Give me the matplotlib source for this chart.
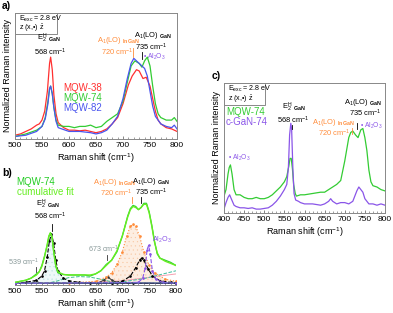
import matplotlib
matplotlib.use('Agg')
import matplotlib.pyplot as plt
from matplotlib.patches import Rectangle

plt.rcParams['font.family'] = ['Liberation Sans', 'DejaVu Sans']
plt.rcParams['mathtext.fontset'] = 'custom'
plt.rcParams['mathtext.rm'] = 'Liberation Sans'
plt.rcParams['mathtext.it'] = 'Liberation Sans:italic'
plt.rcParams['mathtext.bf'] = 'Liberation Sans:bold'
plt.rcParams['hatch.linewidth'] = 0.3

# ---- panel a data ----
xa_38 = [500, 510, 520, 530, 540, 545, 550, 555, 560, 564, 566, 569, 572, 576, 580, 590, 600, 610, 620, 630,
         640, 650, 660, 670, 680, 690, 700, 710, 717, 725, 730, 737, 743, 750, 755, 760, 765, 770, 780, 790, 800]
ya_38 = [0.03, 0.04, 0.06, 0.08, 0.11, 0.12, 0.15, 0.22, 0.38, 0.60, 0.65, 0.55, 0.35, 0.20, 0.13, 0.09, 0.07,
         0.07, 0.065, 0.07, 0.06, 0.05, 0.06, 0.08, 0.12, 0.17, 0.28, 0.43, 0.50, 0.55, 0.54, 0.48, 0.49, 0.42,
         0.32, 0.22, 0.15, 0.12, 0.09, 0.08, 0.06]
xa_82 = [500, 520, 540, 550, 556, 561, 564, 566, 569, 572, 576, 580, 600, 620, 640, 650, 660, 670, 680, 690,
         700, 708, 715, 720, 725, 730, 735, 740, 745, 750, 755, 760, 770, 780, 790, 795, 800]
ya_82 = [0.02, 0.03, 0.06, 0.10, 0.16, 0.28, 0.40, 0.42, 0.36, 0.25, 0.14, 0.09, 0.06, 0.06, 0.05, 0.04, 0.05,
         0.07, 0.12, 0.18, 0.32, 0.48, 0.60, 0.64, 0.62, 0.60, 0.58, 0.56, 0.50, 0.38, 0.26, 0.18, 0.12, 0.10,
         0.09, 0.11, 0.08]
xa_74 = [500, 520, 540, 550, 556, 561, 564, 566, 569, 572, 576, 580, 590, 600, 610, 620, 630, 640, 650, 660,
         670, 680, 690, 700, 708, 715, 722, 730, 735, 740, 745, 750, 755, 760, 765, 770, 780, 790, 795, 800]
ya_74 = [0.02, 0.04, 0.07, 0.10, 0.17, 0.30, 0.40, 0.42, 0.36, 0.25, 0.15, 0.11, 0.10, 0.10, 0.09, 0.10, 0.10,
         0.11, 0.09, 0.10, 0.14, 0.17, 0.20, 0.30, 0.45, 0.58, 0.62, 0.60, 0.57, 0.62, 0.65, 0.58, 0.42, 0.28,
         0.20, 0.17, 0.15, 0.15, 0.17, 0.14]

# ---- panel b data ----
xb = [500, 510, 520, 530, 540, 545, 550, 555, 560, 563, 566, 569, 572, 576, 580, 590, 600, 610, 620, 630, 640,
      650, 660, 670, 680, 690, 700, 710, 715, 720, 725, 730, 735, 740, 745, 750, 755, 760, 765, 770, 780, 790, 800]
yb_data = [0.01, 0.02, 0.03, 0.05, 0.09, 0.11, 0.17, 0.26, 0.36, 0.44, 0.48, 0.43, 0.30, 0.16, 0.10, 0.085,
           0.08, 0.08, 0.08, 0.08, 0.07, 0.09, 0.12, 0.18, 0.22, 0.30, 0.45, 0.64, 0.71, 0.74, 0.73, 0.70, 0.72,
           0.76, 0.76, 0.68, 0.55, 0.40, 0.28, 0.24, 0.22, 0.20, 0.17]
yb_fit = [0.01, 0.02, 0.03, 0.05, 0.08, 0.11, 0.16, 0.25, 0.37, 0.45, 0.48, 0.44, 0.31, 0.17, 0.11, 0.085,
          0.08, 0.08, 0.08, 0.08, 0.08, 0.09, 0.12, 0.17, 0.22, 0.31, 0.45, 0.63, 0.70, 0.73, 0.72, 0.70, 0.72,
          0.75, 0.75, 0.67, 0.54, 0.39, 0.29, 0.24, 0.21, 0.19, 0.17]
xb_e2 = [500, 520, 540, 550, 555, 560, 564, 568, 572, 576, 580, 590, 600, 620, 640, 680, 720, 800]
yb_e2 = [0.005, 0.01, 0.03, 0.07, 0.12, 0.25, 0.40, 0.47, 0.38, 0.22, 0.12, 0.05, 0.025, 0.01, 0.005, 0.0, 0.0, 0.0]
xb_539 = [500, 530, 535, 539, 543, 550, 800]
yb_539 = [0.0, 0.0, 0.012, 0.028, 0.012, 0.0, 0.0]
xb_bro = [500, 560, 580, 600, 620, 640, 660, 680, 700, 800]
yb_bro = [0.0, 0.0, 0.025, 0.055, 0.065, 0.06, 0.04, 0.015, 0.005, 0.0]
xb_673 = [500, 655, 665, 673, 681, 690, 800]
yb_673 = [0.0, 0.005, 0.03, 0.06, 0.03, 0.008, 0.0]
xb_720 = [500, 600, 650, 670, 680, 690, 700, 708, 715, 720, 725, 732, 740, 750, 760, 780, 800]
yb_720 = [0.0, 0.005, 0.02, 0.06, 0.10, 0.18, 0.30, 0.45, 0.54, 0.56, 0.54, 0.45, 0.30, 0.17, 0.10, 0.04, 0.02]
xb_735 = [500, 680, 700, 715, 725, 732, 736, 740, 748, 756, 770, 790, 800]
yb_735 = [0.0, 0.005, 0.02, 0.07, 0.15, 0.22, 0.24, 0.22, 0.14, 0.07, 0.025, 0.01, 0.005]
xb_al = [500, 730, 738, 743, 746, 749, 752, 756, 762, 775, 800]
yb_al = [0.0, 0.01, 0.05, 0.15, 0.32, 0.36, 0.28, 0.12, 0.04, 0.01, 0.0]
xb_bg1 = [500, 680, 740, 800]
yb_bg1 = [0.0, 0.0, 0.045, 0.12]
xb_bg2 = [500, 600, 700, 800]
yb_bg2 = [0.0, 0.0, 0.025, 0.09]

# ---- panel c data ----
xc_74 = [400, 405, 410, 413, 416, 420, 425, 430, 440, 450, 460, 470, 480, 490, 500, 510, 520, 530, 540, 550,
         556, 561, 564, 567, 570, 573, 577, 580, 590, 600, 620, 640, 650, 660, 670, 680, 690, 700, 710, 715,
         720, 727, 733, 740, 745, 750, 755, 760, 765, 770, 780, 790, 800]
yc_74 = [0.13, 0.18, 0.30, 0.35, 0.37, 0.30, 0.18, 0.14, 0.14, 0.12, 0.11, 0.11, 0.12, 0.11, 0.11, 0.12, 0.14,
         0.17, 0.20, 0.24, 0.28, 0.36, 0.42, 0.42, 0.34, 0.22, 0.15, 0.13, 0.14, 0.14, 0.15, 0.16, 0.16, 0.18,
         0.20, 0.22, 0.25, 0.40, 0.58, 0.62, 0.63, 0.60, 0.58, 0.64, 0.65, 0.58, 0.48, 0.33, 0.24, 0.21, 0.20,
         0.18, 0.17]
xc_cg = [400, 405, 410, 414, 418, 425, 430, 440, 450, 460, 470, 480, 490, 500, 510, 520, 530, 540, 550, 556,
         560, 563, 566, 568, 571, 574, 578, 585, 590, 600, 620, 640, 650, 660, 665, 670, 680, 690, 700, 710,
         720, 730, 735, 740, 745, 750, 760, 770, 780, 790, 800]
yc_cg = [0.03, 0.08, 0.12, 0.14, 0.11, 0.06, 0.05, 0.04, 0.04, 0.035, 0.04, 0.03, 0.03, 0.035, 0.04, 0.06, 0.09,
         0.13, 0.18, 0.22, 0.35, 0.60, 0.69, 0.65, 0.35, 0.15, 0.10, 0.09, 0.08, 0.07, 0.07, 0.06, 0.07, 0.09,
         0.11, 0.09, 0.07, 0.08, 0.08, 0.07, 0.09, 0.17, 0.20, 0.18, 0.16, 0.11, 0.07, 0.07, 0.06, 0.07, 0.06]

red = '#ff3030'
green = '#33cc33'
blue = '#4a55ee'
purple = '#8a55e8'
orange = '#ff8c3a'
lime = '#66ee22'
gray = '#8a9a9a'

fig = plt.figure(figsize=(3.93, 3.13), dpi=100)
W, H = 393.0, 313.0

def px_axes(l, t, r, b):
    return fig.add_axes([l / W, 1 - b / H, (r - l) / W, (b - t) / H])

def style(ax, xlo, xhi, step):
    ax.set_xlim(xlo, xhi)
    ax.set_xticks(range(xlo, xhi + 1, step))
    ax.set_xticks(range(xlo, xhi + 1, 10), minor=True)
    ax.set_yticks([])
    ax.tick_params(axis='x', which='major', direction='in', length=2.5, width=0.5, labelsize=6, pad=2,
                   color='#555555')
    ax.tick_params(axis='x', which='minor', direction='in', length=1.3, width=0.4, color='#555555')
    for s in ax.spines.values():
        s.set_color('#888888')
        s.set_linewidth(0.7)
    ax.set_xlabel('Raman shift (cm$^{-1}$)', fontsize=6.5, labelpad=2)

def exc_box(ax, w, h):
    ax.add_patch(Rectangle((0, 1 - h), w, h, transform=ax.transAxes, fill=False, edgecolor='#888888',
                           linewidth=0.7, clip_on=False))
    ax.text(0.025, 1 - h * 0.27, r'E$_{\rm exc}$ = 2.8 eV', transform=ax.transAxes, fontsize=5.1,
            va='center', ha='left')
    ax.text(0.025, 1 - h * 0.74, r'z (x,•) $\bar{\rm z}$', transform=ax.transAxes, fontsize=5.1,
            va='center', ha='left')

def tick(ax, x, y0, y1, c='black'):
    ax.plot([x, x], [y0, y1], color=c, linewidth=0.6)

E2 = r'E$_2^{\rm H}$ $_{\bf GaN}$'
A1G = r'A$_1$(LO) $_{\bf GaN}$'
A1I = r'A$_1$(LO) $_{\bf InGaN}$'
AL = r'• Al$_2$O$_3$'
fs = 5.4

# ---------------- panel a ----------------
ax = px_axes(15, 13, 177, 139)
ax.plot(xa_38, ya_38, color=red, linewidth=0.9)
ax.plot(xa_74, ya_74, color=green, linewidth=0.9)
ax.plot(xa_82, ya_82, color=blue, linewidth=0.9)
ax.set_ylim(0, 1)
style(ax, 500, 800, 50)
ax.set_ylabel('Normalized Raman intensity', fontsize=6.5, labelpad=2)
exc_box(ax, 0.26, 0.165)
ax.text(563, 0.80, E2, fontsize=fs, ha='center', va='center')
ax.text(566, 0.69, '568 cm$^{-1}$', fontsize=fs, ha='center', va='center')
ax.text(691, 0.78, A1I, fontsize=fs, ha='center', va='center', color=orange)
ax.text(689, 0.685, '720 cm$^{-1}$', fontsize=fs, ha='center', va='center', color=orange)
tick(ax, 718.5, 0.65, 0.72, orange)
ax.text(755, 0.82, A1G, fontsize=fs, ha='center', va='center')
ax.text(753, 0.73, '735 cm$^{-1}$', fontsize=fs, ha='center', va='center')
tick(ax, 735, 0.635, 0.69)
ax.text(757, 0.65, AL, fontsize=4.8, ha='center', va='center', color=purple)
ax.text(589, 0.405, 'MQW-38', fontsize=7, color=red, va='center')
ax.text(589, 0.325, 'MQW-74', fontsize=7, color=green, va='center')
ax.text(589, 0.246, 'MQW-82', fontsize=7, color=blue, va='center')

# ---------------- panel b ----------------
bx = px_axes(15, 178, 176, 285)
bx.fill_between(xb_e2, yb_e2, color='#eef8f8', hatch='....', edgecolor='#b5e0e0', linewidth=0)
bx.fill_between(xb_720, yb_720, color='#fdeee2', hatch='....', edgecolor='#f8c8a4', linewidth=0)
bx.plot(xb_bg2, yb_bg2, color='#f5a0b0', linewidth=0.7)
bx.plot(xb_bg1, yb_bg1, color='#3fbfa0', linewidth=0.7, linestyle='--')
bx.plot(xb_bro, yb_bro, color='#3fbf90', linewidth=0.7, linestyle='--')
bx.plot(xb_539, yb_539, color='#333333', linewidth=0.7)
bx.plot(xb_673, yb_673, color='#333333', linewidth=0.7, marker='.', markersize=1.5)
bx.plot(xb_e2, yb_e2, color='black', linewidth=0.8, linestyle='--', marker='.', markersize=1.8)
bx.plot(xb_720, yb_720, color=orange, linewidth=0.8, linestyle=':', marker='.', markersize=1.8)
bx.plot(xb_735, yb_735, color='black', linewidth=0.8, linestyle='--', marker='.', markersize=1.8)
bx.plot(xb_al, yb_al, color=purple, linewidth=0.8, linestyle='--', marker='.', markersize=1.8)
bx.plot(xb, [0.0] * len(xb), color='#6a7acc', linewidth=1.2, alpha=0.6)
bx.plot(xb, yb_data, color=green, linewidth=0.9)
bx.plot(xb, yb_fit, color=lime, linewidth=1.0)
bx.set_ylim(-0.015, 1.0)
style(bx, 500, 800, 50)
for s in ['top', 'left', 'right']:
    bx.spines[s].set_visible(False)
bx.text(503, 0.96, 'MQW-74', fontsize=7, color='#22cc22', va='center')
bx.text(503, 0.865, 'cumulative fit', fontsize=7, color=lime, va='center')
bx.text(561, 0.75, E2, fontsize=fs, ha='center', va='center')
bx.text(566, 0.64, '568 cm$^{-1}$', fontsize=fs, ha='center', va='center')
tick(bx, 568.5, 0.50, 0.56)
bx.text(517, 0.203, '539 cm$^{-1}$', fontsize=5.2, ha='center', va='center', color=gray)
tick(bx, 539, 0.108, 0.156, '#333333')
bx.text(665, 0.327, '673 cm$^{-1}$', fontsize=5.2, ha='center', va='center', color=gray)
tick(bx, 672, 0.22, 0.27, '#333333')
bx.text(685, 0.958, A1I, fontsize=fs, ha='center', va='center', color=orange)
bx.text(689, 0.858, '720 cm$^{-1}$', fontsize=fs, ha='center', va='center', color=orange)
tick(bx, 718, 0.76, 0.82, orange)
bx.text(754, 0.97, A1G, fontsize=fs, ha='center', va='center')
bx.text(754, 0.867, '735 cm$^{-1}$', fontsize=fs, ha='center', va='center')
tick(bx, 735, 0.76, 0.82)
bx.text(774, 0.41, r'Al$_2$O$_3$', fontsize=5.2, ha='center', va='center', color=purple)

# ---------------- panel c ----------------
cx = px_axes(224, 83, 385, 213)
cx.plot(xc_74, yc_74, color=green, linewidth=0.9)
cx.plot(xc_cg, yc_cg, color=purple, linewidth=0.9)
cx.set_ylim(0, 1)
style(cx, 400, 800, 50)
cx.set_ylabel('Normalized Raman intensity', fontsize=6.5, labelpad=2)
exc_box(cx, 0.255, 0.17)
cx.text(405, 0.777, 'MQW-74', fontsize=7, color=green, va='center')
cx.text(405, 0.70, 'c-GaN-74', fontsize=7, color=purple, va='center')
cx.text(437, 0.423, AL, fontsize=4.8, ha='center', va='center', color=purple)
cx.text(574, 0.81, E2, fontsize=fs, ha='center', va='center')
cx.text(571, 0.715, '568 cm$^{-1}$', fontsize=fs, ha='center', va='center')
tick(cx, 569, 0.65, 0.68)
cx.text(746, 0.85, A1G, fontsize=fs, ha='center', va='center')
cx.text(750, 0.765, '735 cm$^{-1}$', fontsize=fs, ha='center', va='center')
tick(cx, 730, 0.645, 0.69)
cx.text(672, 0.70, A1I, fontsize=fs, ha='center', va='center', color=orange)
cx.text(673, 0.615, '720 cm$^{-1}$', fontsize=fs, ha='center', va='center', color=orange)
tick(cx, 718, 0.605, 0.655, orange)
cx.text(767, 0.67, AL, fontsize=4.8, ha='center', va='center', color=purple)

fig.text(2 / W, 1 - 6 / H, 'a)', fontsize=7.5, fontweight='bold', va='center')
fig.text(2 / W, 1 - 173 / H, 'b)', fontsize=7.5, fontweight='bold', va='center')
fig.text(212 / W, 1 - 76 / H, 'c)', fontsize=7.5, fontweight='bold', va='center')

plt.savefig('out.png', dpi=100)
